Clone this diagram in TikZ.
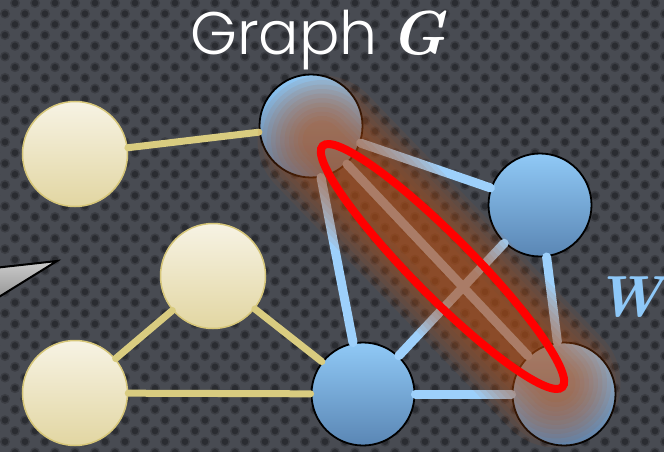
\documentclass[tikz,border=0pt]{standalone}
\usepackage{fontspec}
\usetikzlibrary{shapes.geometric}
\IfFontExistsTF{Poppins Light}{\newfontfamily\titlefont{Poppins Light}}{\newfontfamily\titlefont{Poppins}}
\definecolor{bgc}{HTML}{484B52}
\definecolor{dotouter}{HTML}{3B3D43}
\definecolor{dotinner}{HTML}{2A2C31}
\definecolor{ytop}{HTML}{F7F3E4}
\definecolor{ybot}{HTML}{E2D6A2}
\definecolor{yborder}{HTML}{D6C679}
\definecolor{yedge}{HTML}{D9CC80}
\definecolor{btop}{HTML}{90C9F6}
\definecolor{bbot}{HTML}{5A86B4}
\definecolor{bedge}{HTML}{9DD0FB}
\definecolor{glowc}{HTML}{B85216}
\definecolor{wblue}{HTML}{8EC8F8}
\tikzset{
  ynode/.style={circle, minimum size=105, inner sep=0, draw=yborder, line width=1.5, top color=ytop, bottom color=ybot},
  bnode/.style={circle, minimum size=103, inner sep=0, draw=black, line width=1.8, top color=btop, bottom color=bbot},
  yline/.style={draw=yedge, line width=7, line cap=round},
  bline/.style={draw=bedge, line width=9, line cap=round},
  glowlayer/.style={draw=glowc, line cap=round, opacity=0.085},
}
\begin{document}
\begin{tikzpicture}[x=1pt,y=-1pt]
\useasboundingbox (0,0) rectangle (664,452);
\clip (0,0) rectangle (664,452);
% background
\fill[bgc] (0,0) rectangle (664,452);
\foreach \r in {0,...,42}{
  \pgfmathtruncatemacro\off{15-10*mod(\r,2)}
  \pgfmathsetmacro\yy{3+\r*10.7}
  \foreach \c in {-1,...,33}{
    \fill[dotouter] (\off+\c*20,\yy) circle (5);
    \fill[dotinner] (\off+\c*20,\yy) circle (3.3);
  }
}
% pointer triangle
\filldraw[draw=black, line width=2, top color=gray!40, bottom color=gray!85] (57,261) -- (-6,268) -- (-6,300) -- cycle;
% nodes
\node[ynode] (ya) at (75,154) {};
\node[ynode] (yb) at (213,276) {};
\node[ynode] (yc) at (75,393) {};
\node[bnode] (bt) at (311,126) {};
\node[bnode] (br) at (540,205) {};
\node[bnode] (bm) at (363,394) {};
\node[bnode] (bx) at (564,394) {};
% edges
\draw[yline] (ya) -- (bt);
\draw[yline] (yb) -- (yc);
\draw[yline] (yb) -- (bm);
\draw[yline] (yc) -- (bm);
\draw[bline] (bt) -- (br);
\draw[bline] (bt) -- (bm);
\draw[bline] (bt) -- (bx);
\draw[bline] (br) -- (bm);
\draw[bline] (br) -- (bx);
\draw[bline] (bm) -- (bx);
% glow
\coordinate (g1) at (322,140);
\coordinate (g2) at (556,383);
\foreach \i in {1,...,11}{
  \draw[glowlayer, line width=30+\i*9] (g1) -- (g2);
}
% red ellipse
\node[draw=red, line width=8, ellipse, minimum width=340, minimum height=60, inner sep=0, rotate=-45.2] (w) at (442.5,266.5) {};
% texts
\node[anchor=base west, inner sep=0, text=white, font=\titlefont\fontsize{60}{60}\selectfont] (title) at (190,55) {Graph};
\node[anchor=base west, inner sep=0, text=white, font=\rmfamily\bfseries\itshape\fontsize{62}{62}\selectfont] (gl) at (390,55) {G};
\node[anchor=base east, inner sep=0, text=wblue, font=\rmfamily\bfseries\itshape\fontsize{58}{58}\selectfont] (wl) at (663,316) {W};
\end{tikzpicture}
\end{document}
